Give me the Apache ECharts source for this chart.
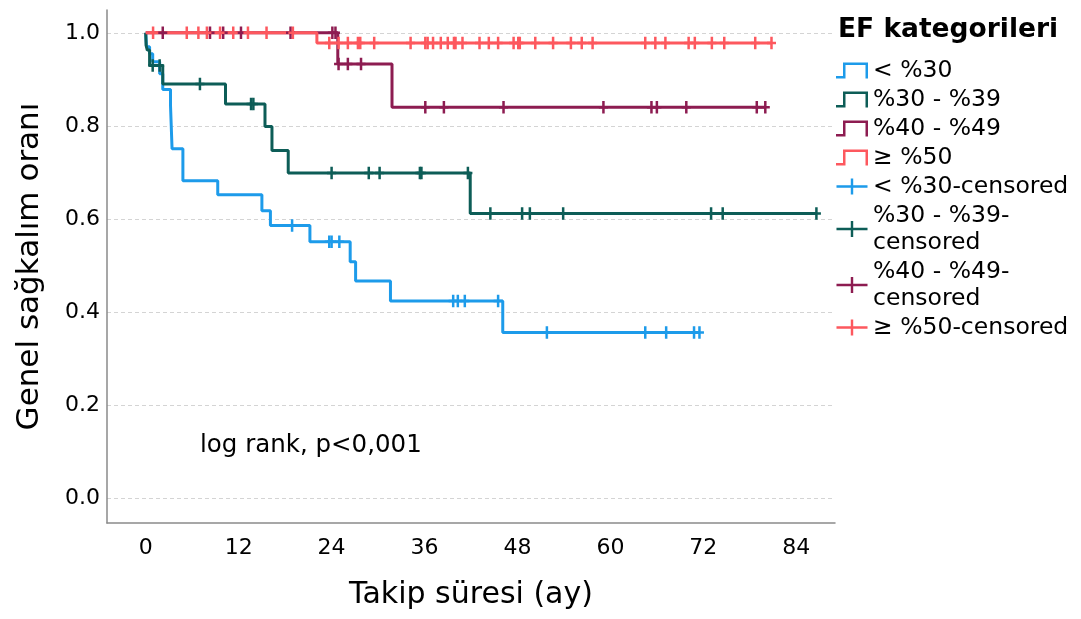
<!DOCTYPE html>
<html>
<head>
<meta charset="utf-8">
<script src="https://cdn.jsdelivr.net/npm/echarts@6/dist/echarts.min.js"></script>
<style>
  html, body { margin: 0; padding: 0; background: #fff; }
  #chart { width: 1081px; height: 619px; }
</style>
</head>
<body>
<div id="chart"></div>
<script>
// groups (EF kategorileri)
var groupNames = ['< %30', '%30 - %39', '%40 - %49', '≥ %50'];
var groupColors = ['#1d9bea', '#0d5d57', '#8d1c51', '#fd585e'];

// Kaplan-Meier steps: [time (ay), survival after the event]
var stepsLt30 = [[0, 1], [0.1, 0.97], [0.5, 0.955], [0.9, 0.938], [1.8, 0.912], [2.2, 0.878],
  [3.2, 0.844], [3.4, 0.751], [4.8, 0.682], [9.3, 0.652], [15.0, 0.618], [16.1, 0.586],
  [21.2, 0.551], [26.4, 0.508], [27.1, 0.467], [31.6, 0.424], [46.1, 0.356], [71.5, 0.356]];
var steps30to39 = [[0, 1], [0.05, 0.973], [0.2, 0.963], [0.5, 0.93], [2.2, 0.89], [10.3, 0.847],
  [15.4, 0.799], [16.3, 0.747], [18.4, 0.699], [41.9, 0.612], [86.6, 0.612]];
var steps40to49 = [[0, 1], [24.8, 0.933], [31.8, 0.84], [80.0, 0.84]];
var stepsGe50 = [[0, 1], [22.1, 0.978], [80.8, 0.978]];

// censored times
var censorLt30 = [18.9, 23.7, 24.0, 25.0, 39.7, 40.3, 41.2, 45.5, 51.8, 64.5, 67.2, 70.8, 71.5];
var censor30to39 = [0.9, 1.8, 7.0, 13.6, 13.9, 24.0, 28.8, 30.2, 35.4, 35.6, 41.6, 44.5, 48.6,
  49.6, 53.9, 73.0, 74.5, 86.6];
var censor40to49 = [2.2, 8.3, 10.0, 12.3, 18.7, 24.1, 24.5, 24.9, 26.1, 27.8, 36.1, 38.5, 46.2,
  59.1, 65.3, 66.0, 69.8, 78.9, 80.0];
var censorGe50 = [0.95, 5.3, 6.8, 7.9, 9.6, 11.3, 13.2, 15.6, 19.0, 23.7, 24.9, 26.1, 27.4, 27.7,
  29.5, 34.2, 36.1, 36.4, 37.1, 38.1, 39.0, 39.8, 40.0, 40.9, 43.1, 44.3, 45.5, 47.5, 48.1, 48.3,
  50.3, 52.6, 54.9, 56.3, 57.7, 64.5, 65.8, 67.1, 70.1, 70.9, 73.1, 74.7, 78.7, 80.8];

var xTicks = [0, 12, 24, 36, 48, 60, 72, 84];
var yTicks = [0, 0.2, 0.4, 0.6, 0.8, 1.0];

var FONT = 'DejaVu Sans';
var crossMark = 'path://M3.25,0H5.75V5H9V7.5H5.75V12.5H3.25V7.5H0V5H3.25Z';
var crossIcon = 'path://M14.75,0H17.25V7H32V9.5H17.25V16.5H14.75V9.5H0V7H14.75Z';
var stepIcon = 'path://M0,13.5H7V0H32V16H29.5V2.5H9.5V16H0Z';

var stepSets = [stepsLt30, steps30to39, steps40to49, stepsGe50];
var censorSets = [censorLt30, censor30to39, censor40to49, censorGe50];

// survival level of a step curve at time t
function levelAt(steps, t) {
  var s = steps[0][1];
  for (var i = 0; i < steps.length; i++) {
    if (steps[i][0] <= t) s = steps[i][1];
  }
  return s;
}

var series = [];
var legendData = [];
stepSets.forEach(function (steps, i) {
  series.push({
    name: groupNames[i],
    type: 'line',
    step: 'end',
    symbol: 'none',
    data: steps,
    lineStyle: { width: 3, color: groupColors[i] },
    itemStyle: { color: groupColors[i] },
    z: 2 + i
  });
  legendData.push({ name: groupNames[i], icon: stepIcon, itemStyle: { color: groupColors[i], borderWidth: 0 } });
});
censorSets.forEach(function (times, i) {
  series.push({
    name: groupNames[i] + '-censored',
    type: 'scatter',
    symbol: crossMark,
    symbolSize: [9, 12.5],
    data: times.map(function (t) { return [t, levelAt(stepSets[i], t)]; }),
    itemStyle: { color: groupColors[i], opacity: 1 },
    z: 10
  });
  legendData.push({ name: groupNames[i] + '-censored', icon: crossIcon, itemStyle: { color: groupColors[i], borderWidth: 0 } });
});

var chart = echarts.init(document.getElementById('chart'));
chart.setOption({
  animation: false,
  backgroundColor: '#fff',
  title: {
    text: 'EF kategorileri',
    left: 838,
    top: 17,
    padding: 0,
    textStyle: { fontFamily: FONT, fontWeight: 'bold', fontSize: 26.5, color: '#000' }
  },
  legend: {
    orient: 'vertical',
    left: 836,
    top: 57,
    padding: 0,
    itemGap: 2,
    itemWidth: 32,
    itemHeight: 16,
    selectedMode: false,
    textStyle: { fontFamily: FONT, fontSize: 23.5, color: '#000', lineHeight: 27 },
    formatter: function (name) {
      return name.length > 15 ? name.replace('-censored', '-\ncensored') : name;
    },
    data: legendData
  },
  grid: { left: 107, right: 246, top: 10, bottom: 96 },
  xAxis: {
    type: 'value',
    min: -5,
    max: 89,
    name: 'Takip süresi (ay)',
    nameLocation: 'middle',
    nameGap: 57,
    nameTextStyle: { fontFamily: FONT, fontSize: 30, color: '#000' },
    axisLine: { onZero: false, lineStyle: { color: '#8a8a8a', width: 1.5 } },
    axisTick: { show: false, customValues: xTicks },
    axisLabel: { customValues: xTicks, fontFamily: FONT, fontSize: 22, color: '#000', margin: 14 },
    splitLine: { show: false }
  },
  yAxis: {
    type: 'value',
    min: -0.053,
    max: 1.049,
    name: 'Genel sağkalım oranı',
    nameLocation: 'middle',
    nameGap: 62,
    nameTextStyle: { fontFamily: FONT, fontSize: 31, color: '#000' },
    axisLine: { show: true, onZero: false, lineStyle: { color: '#8a8a8a', width: 1.5 } },
    axisTick: { show: false, customValues: yTicks },
    axisLabel: {
      customValues: yTicks,
      fontFamily: FONT, fontSize: 22, color: '#000', margin: 7,
      formatter: function (v) { return v.toFixed(1); }
    },
    splitLine: { show: true, lineStyle: { color: '#d4d4d4', type: [4, 3], width: 1 } }
  },
  graphic: [{
    type: 'text',
    left: 200,
    top: 433,
    style: { text: 'log rank, p<0,001', fontFamily: FONT, fontSize: 24.5, fill: '#000' }
  }],
  series: series
});
</script>
</body>
</html>
